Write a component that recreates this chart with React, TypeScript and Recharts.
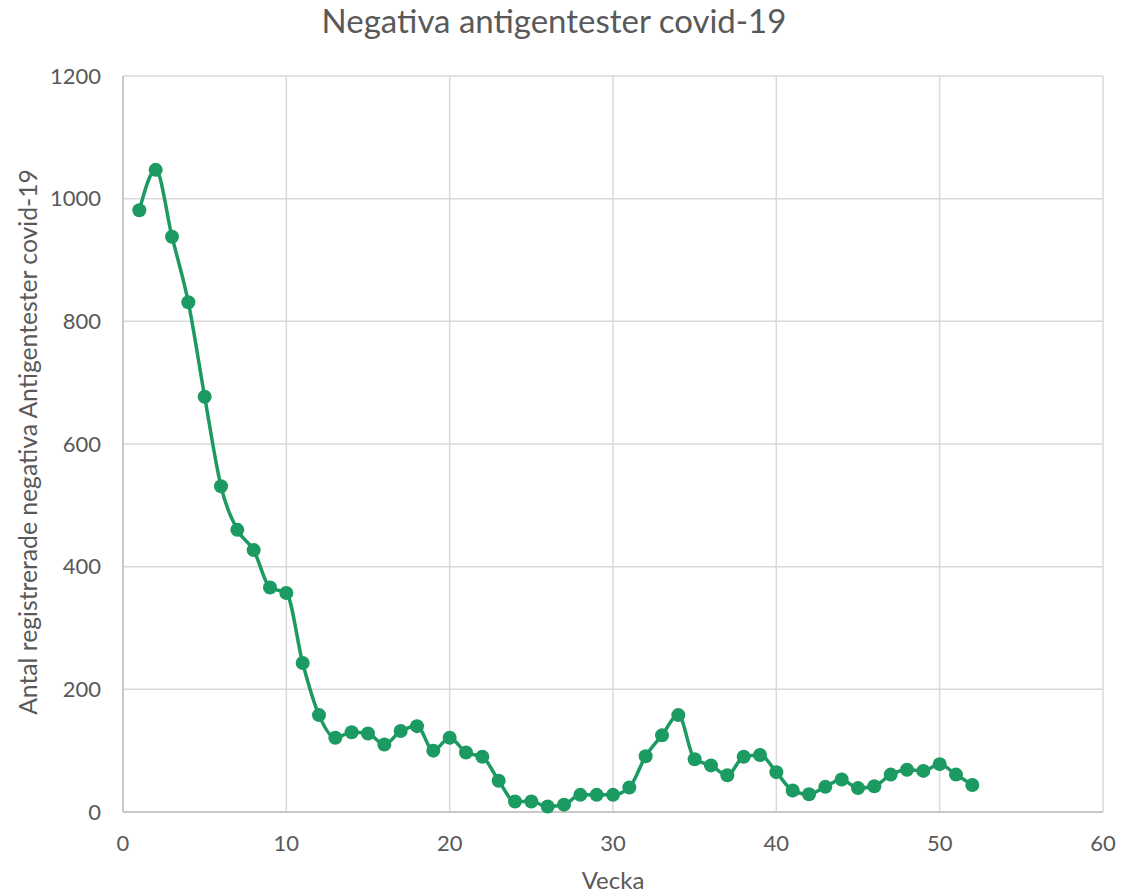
import React from 'react';
import { LineChart, Line, XAxis, YAxis, CartesianGrid, Label } from 'recharts';

const weeks = [
  1, 2, 3, 4, 5, 6, 7, 8, 9, 10, 11, 12, 13, 14, 15, 16, 17, 18, 19, 20, 21, 22, 23, 24, 25, 26,
  27, 28, 29, 30, 31, 32, 33, 34, 35, 36, 37, 38, 39, 40, 41, 42, 43, 44, 45, 46, 47, 48, 49, 50, 51, 52,
];
const negativeTests = [
  981, 1047, 938, 831, 677, 531, 460, 427, 366, 357, 243, 158, 121, 130, 128, 110, 132, 140, 100, 121,
  97, 90, 51, 17, 17, 9, 12, 28, 28, 28, 40, 91, 125, 158, 86, 76, 60, 90, 93, 65, 35, 29, 41, 53,
  39, 42, 61, 69, 67, 78, 61, 44,
];
const xTicks = [0, 10, 20, 30, 40, 50, 60];
const yTicks = [0, 200, 400, 600, 800, 1000, 1200];

const title = 'Negativa antigentester covid-19';
const xLabel = 'Vecka';
const yLabel = 'Antal registrerade negativa Antigentester covid-19';

const data = weeks.map((w, i) => ({ week: w, value: negativeTests[i] }));

const FONT = "Lato, 'Open Sans', sans-serif";
const TEXT = '#595959';
const GREEN = '#1b9a61';

export default function App() {
  return (
    <div style={{ position: 'absolute', left: 0, top: 0, width: 1142, height: 896, background: '#fff', fontFamily: FONT }}>
      <LineChart
        width={1142}
        height={896}
        data={data}
        margin={{ top: 76, right: 39, bottom: 0, left: 0 }}
      >
        <CartesianGrid stroke="#d9d9d9" strokeWidth={1.5} />
        <XAxis
          dataKey="week"
          type="number"
          domain={[0, 60]}
          ticks={xTicks}
          height={84}
          tickLine={false}
          tickSize={0}
          tickMargin={23}
          axisLine={{ stroke: '#bfbfbf', strokeWidth: 1.5 }}
          tick={{ fill: TEXT, fontSize: 22, fontFamily: FONT }}
        >
          <Label value={xLabel} position="insideBottom" offset={7} fill={TEXT} fontSize={24} fontFamily={FONT} />
        </XAxis>
        <YAxis
          type="number"
          domain={[0, 1200]}
          ticks={yTicks}
          width={123}
          tickLine={false}
          tickSize={0}
          tickMargin={22}
          axisLine={{ stroke: '#bfbfbf', strokeWidth: 1.5 }}
          tick={{ fill: TEXT, fontSize: 22, fontFamily: FONT }}
        >
          <Label value={yLabel} angle={-90} position="center" dx={-33} dy={-2} fill={TEXT} fontSize={24.7} fontFamily={FONT} />
        </YAxis>
        <Line
          type="monotone"
          dataKey="value"
          stroke={GREEN}
          strokeWidth={3.5}
          dot={{ r: 7, fill: GREEN, stroke: GREEN, strokeWidth: 0 }}
          activeDot={false}
          isAnimationActive={false}
        />
      </LineChart>
      <svg width={1142} height={896} style={{ position: 'absolute', left: 0, top: 0, pointerEvents: 'none' }}>
        <text x={554} y={33} textAnchor="middle" fill={TEXT} fontSize={33} fontFamily={FONT}>
          {title}
        </text>
      </svg>
    </div>
  );
}
